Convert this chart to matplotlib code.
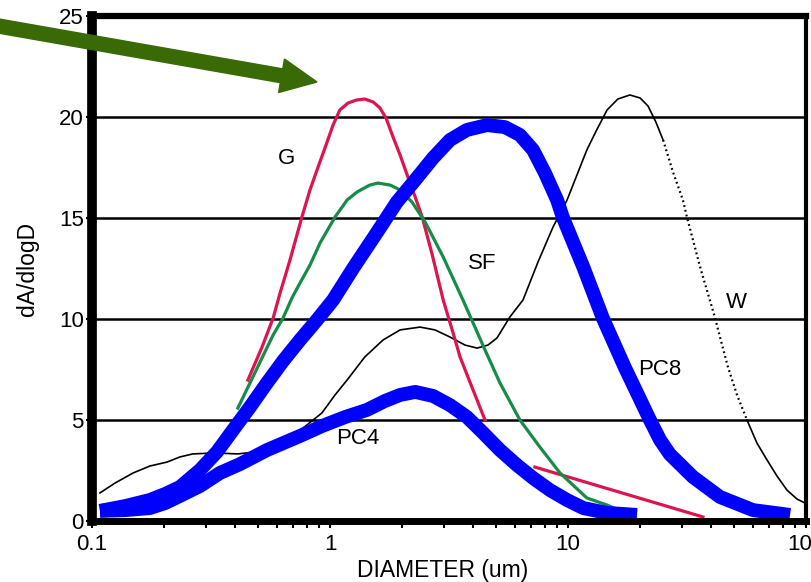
import matplotlib
matplotlib.use("Agg")
import matplotlib.pyplot as plt
from matplotlib.patches import FancyArrow
from matplotlib.transforms import IdentityTransform
from matplotlib.ticker import FixedLocator, LogLocator, NullFormatter

plt.rcParams['font.family'] = ['Liberation Sans', 'DejaVu Sans']

# ---- data: particle size distributions, dA/dlogD vs diameter (um) ----
g_diam = [0.452, 0.518, 0.577, 0.617, 0.679, 0.762, 0.824, 0.891, 0.962, 1.03,
          1.10, 1.19, 1.29, 1.40, 1.52, 1.62, 1.72, 1.84, 1.97, 2.11, 2.28,
          2.44, 2.69, 2.99, 3.29, 3.52, 3.99, 4.48]
g_vals = [6.98, 8.61, 10.05, 11.29, 12.92, 15.05, 16.39, 17.52, 18.61, 19.6,
          20.35, 20.69, 20.84, 20.89, 20.74, 20.45, 19.95, 19.01, 18.12, 17.13,
          16.04, 15.05, 13.17, 10.94, 9.31, 8.12, 6.49, 5.0]
g_tail_diam = [7.26, 36.9]
g_tail_vals = [2.67, 0.2]

sf_diam = [0.410, 0.461, 0.518, 0.577, 0.635, 0.692, 0.748, 0.824, 0.908, 1.05,
           1.18, 1.30, 1.47, 1.59, 1.79, 1.97, 2.21, 2.51, 2.99, 3.62, 4.48,
           5.18, 6.28, 7.62, 9.25, 12.0, 14.6, 17.3]
sf_vals = [5.59, 6.83, 8.07, 9.21, 10.05, 11.04, 11.78, 12.67, 13.76, 15.05,
           15.89, 16.29, 16.63, 16.73, 16.63, 16.39, 15.79, 14.80, 13.07, 10.94,
           8.47, 6.83, 5.0, 3.66, 2.38, 1.14, 0.79, 0.40]

w_diam = [0.108, 0.125, 0.149, 0.175, 0.207, 0.234, 0.265, 0.329, 0.410, 0.484,
          0.587, 0.735, 0.925, 1.05, 1.18, 1.40, 1.67, 1.97, 2.39, 2.76, 3.19,
          3.69, 4.15, 4.61, 5.03, 5.70, 6.47, 7.48, 8.65, 9.91, 12.0, 13.2,
          14.6, 16.2, 18.2, 20.1, 21.7, 23.4, 25.1]
w_vals = [1.39, 1.88, 2.38, 2.72, 2.92, 3.17, 3.32, 3.37, 3.32, 3.42,
          3.71, 4.41, 5.35, 6.24, 6.98, 8.12, 8.96, 9.46, 9.60, 9.46, 9.11,
          8.71, 8.56, 8.71, 9.06, 10.10, 10.94, 12.82, 14.55, 15.89, 18.37, 19.36,
          20.35, 20.89, 21.09, 20.94, 20.54, 19.75, 18.86]
w_dot_diam = [25.1, 27.6, 30.4, 31.6, 35.9, 41.5, 43.5, 47.0, 51.3, 56.5]
w_dot_vals = [18.86, 17.28, 15.89, 15.05, 12.57, 10.05, 9.11, 7.62, 6.24, 5.0]
w_end_diam = [56.5, 62.2, 68.6, 75.5, 83.2, 91.6, 99.0]
w_end_vals = [5.0, 3.86, 3.02, 2.23, 1.53, 1.09, 0.89]

pc4_diam = [0.108, 0.138, 0.175, 0.203, 0.234, 0.284, 0.345, 0.419, 0.543, 0.748,
            0.925, 1.16, 1.43, 1.70, 1.97, 2.28, 2.71, 3.19, 3.76, 4.40, 5.18,
            6.1, 7.13, 8.4, 9.9, 11.6, 14.6, 19.5]
pc4_vals = [0.50, 0.54, 0.64, 0.89, 1.24, 1.73, 2.38, 2.82, 3.51, 4.21,
            4.70, 5.15, 5.50, 5.94, 6.24, 6.39, 6.19, 5.74, 5.15, 4.36, 3.51,
            2.77, 2.13, 1.53, 1.04, 0.64, 0.40, 0.30]

pc8_diam = [0.108, 0.138, 0.175, 0.203, 0.234, 0.284, 0.335, 0.391, 0.461, 0.543,
            0.635, 0.748, 0.881, 1.03, 1.26, 1.55, 1.91, 2.28, 2.71, 3.19, 3.76,
            4.57, 5.43, 6.28, 7.13, 8.0, 9.0, 9.5, 11.6, 14.0, 17.3, 22.1, 24.4,
            26.8, 33.5, 43.5, 59.9, 85.7]
pc8_vals = [0.50, 0.74, 1.04, 1.34, 1.68, 2.52, 3.42, 4.50, 5.64, 6.83,
            7.92, 8.96, 9.95, 10.94, 12.57, 14.16, 15.79, 16.88, 17.97, 18.86, 19.36,
            19.60, 19.50, 19.11, 18.37, 17.23, 15.89, 15.05, 12.57, 10.05, 7.62, 5.0, 4.0,
            3.3, 2.18, 1.19, 0.54, 0.30]

curve_labels = ['G', 'SF', 'W', 'PC8', 'PC4']
label_diam = [0.655, 4.37, 50.9, 24.3, 1.31]
label_vals = [17.97, 12.77, 10.8, 7.52, 4.06]

y_ticks = [0, 5, 10, 15, 20, 25]
x_ticks = [0.1, 1, 10, 100]
x_tick_labels = ['0.1', '1', '10', '100']

RED = '#DC1450'
GREEN = '#168C48'
BLUE = '#0000FF'
ARROW = '#3A6A05'

W_PX, H_PX = 811, 582
fig = plt.figure(figsize=(W_PX / 100, H_PX / 100), dpi=100)
ax = fig.add_axes([92 / W_PX, (H_PX - 521) / H_PX, 714 / W_PX, 505 / H_PX])

ax.set_xscale('log')
ax.set_xlim(0.1, 100)
ax.set_ylim(0, 25)

# horizontal reference lines
for yv in y_ticks[1:-1]:
    ax.axhline(yv, color='black', lw=1.8, zorder=1)

# W (thin black, dotted across its falling shoulder)
ax.plot(w_diam, w_vals, color='black', lw=1.2, zorder=2)
ax.plot(w_dot_diam, w_dot_vals, color='black', lw=1.6,
        linestyle=(0, (0.8, 1.4)), zorder=2)
ax.plot(w_end_diam, w_end_vals, color='black', lw=1.2, zorder=2)

# G and SF
ax.plot(g_diam, g_vals, color=RED, lw=2.3, zorder=3)
ax.plot(g_tail_diam, g_tail_vals, color=RED, lw=2.3, zorder=3)
ax.plot(sf_diam, sf_vals, color=GREEN, lw=2.3, zorder=3)

# PC4 and PC8 (heavy blue)
ax.plot(pc4_diam, pc4_vals, color=BLUE, lw=10, solid_capstyle='butt',
        solid_joinstyle='round', zorder=4)
ax.plot(pc8_diam, pc8_vals, color=BLUE, lw=10, solid_capstyle='butt',
        solid_joinstyle='round', zorder=5)

for txt, xd, yd in zip(curve_labels, label_diam, label_vals):
    ax.text(xd, yd, txt, fontsize=16, ha='center', va='center', zorder=6)

# axes frame
ax.spines['left'].set_linewidth(7)
ax.spines['bottom'].set_linewidth(5)
ax.spines['top'].set_linewidth(4.5)
ax.spines['right'].set_linewidth(3)
for s in ax.spines.values():
    s.set_zorder(7)

ax.set_yticks(y_ticks)
ax.set_yticklabels([str(v) for v in y_ticks])
ax.xaxis.set_major_locator(FixedLocator(x_ticks))
ax.set_xticklabels(x_tick_labels)
ax.xaxis.set_minor_locator(LogLocator(base=10, subs=range(2, 10)))
ax.xaxis.set_minor_formatter(NullFormatter())
ax.tick_params(axis='y', direction='out', length=4, width=1.5, pad=2,
               labelsize=16)
ax.tick_params(axis='x', which='both', direction='out', length=5, width=1.5,
               pad=4, labelsize=16)

ax.set_xlabel('DIAMETER (um)', fontsize=16.5, va='center')
ax.set_ylabel('dA/dlogD', fontsize=16.5, va='center')
ax.xaxis.set_label_coords((443 - 92) / 714, (521 - 570) / 505)
ax.yaxis.set_label_coords((27 - 92) / 714, 0.5)

# green pointer arrow in pixel coordinates
tail = (-10, 24.5)
tip = (317, 82)
arrow = FancyArrow(tail[0], H_PX - tail[1], tip[0] - tail[0], -(tip[1] - tail[1]),
                   width=14, head_width=34, head_length=36,
                   length_includes_head=True, color=ARROW,
                   transform=IdentityTransform(), zorder=10)
fig.add_artist(arrow)

fig.savefig('out.png', dpi=100)
